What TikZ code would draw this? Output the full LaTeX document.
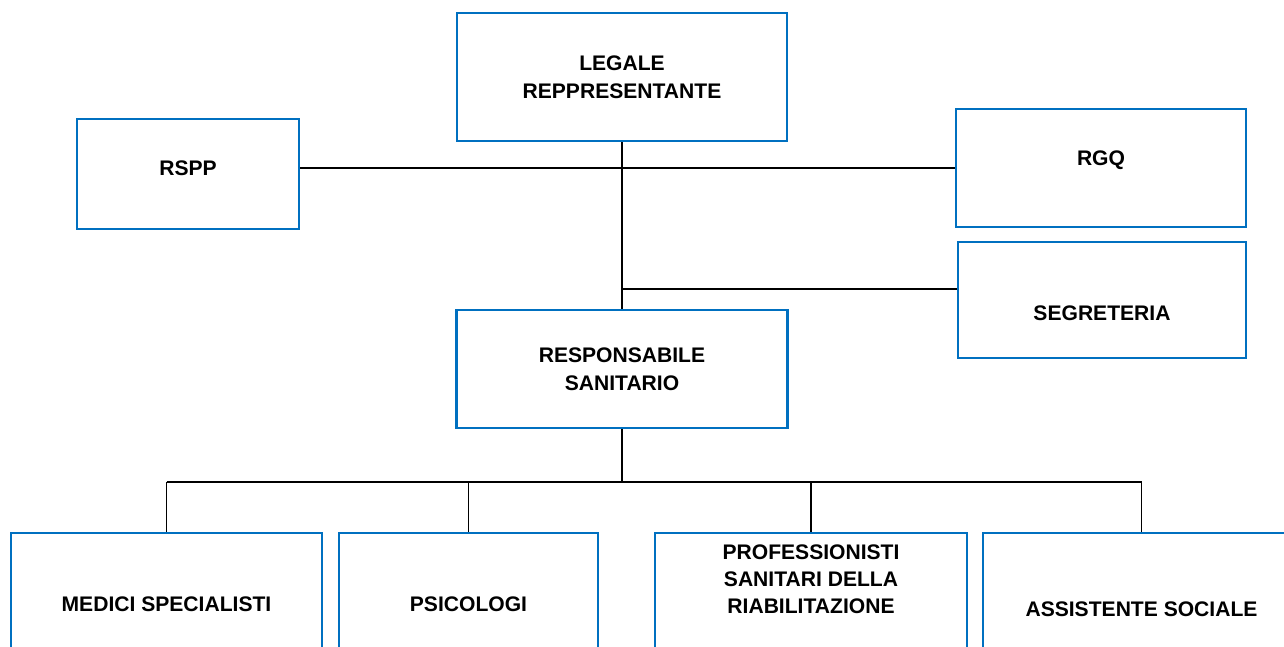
\documentclass[tikz,border=0pt]{standalone}
\usepackage{fontspec}
\setmainfont{Liberation Sans}
\definecolor{boxblue}{RGB}{0,112,192}
\newcommand{\lift}[2]{\raisebox{#1}[\height][\depth]{#2}}
\begin{document}
\begin{tikzpicture}[x=0.02cm,y=-0.02cm]
        \tikzset{
          unit/.style={draw=boxblue, line width=1.5pt, fill=white, align=center,
            inner sep=0pt, font=\fontsize{12}{16}\selectfont\bfseries},
          wire/.style={line width=0.8pt, black}
        }
        \useasboundingbox (0,0) rectangle (1284,646);
        \clip (0,0) rectangle (1284,646);

        % top level
        \node(legale)[unit, minimum width=6.6cm, minimum height=2.56cm] at (622,77) {LEGALE\\REPPRESENTANTE};
        \node(rspp)[unit, minimum width=4.44cm, minimum height=2.2cm] at (188,174) {\lift{0.12cm}{RSPP}};
        \node(rgq)[unit, minimum width=5.8cm, minimum height=2.36cm] at (1101,168) {\lift{0.16cm}{RGQ}};
        \node(segr)[unit, minimum width=5.76cm, minimum height=2.32cm] at (1102,300) {\lift{-0.26cm}{SEGRETERIA}};
        \node(resp)[unit, minimum width=6.62cm, minimum height=2.36cm] at (622,369) {RESPONSABILE\\SANITARIO};

        % bottom row, cut by the page edge
        \node(medici)[unit, minimum width=6.22cm, minimum height=2.84cm] at (166.5,604) {MEDICI SPECIALISTI};
        \node(psicologi)[unit, minimum width=5.18cm, minimum height=2.84cm] at (468.5,604) {PSICOLOGI};
        \node(prof)[unit, minimum width=6.24cm, minimum height=2.84cm] at (811,604) {\lift{0.46cm}{\begin{tabular}{@{}c@{}}PROFESSIONISTI\\[-0.7pt]SANITARI DELLA\\[-0.7pt]RIABILITAZIONE\end{tabular}}};
        \node(assist)[unit, minimum width=6.34cm, minimum height=2.84cm] at (1141.5,604) {\lift{-0.1cm}{ASSISTENTE SOCIALE}};

        \coordinate(segj) at (622,289);
        \coordinate(bus) at (622,482);

        \draw[wire] (legale.south) -- (resp.north);
        \draw[wire] (rgq.west -| rspp.east) -- (rgq.west);
        \draw[wire] (segj) -- (segj -| segr.west);
        \draw[wire] (resp.south) -- (bus);
        \draw[wire] (bus -| medici.north) -- (bus -| assist.north);
        \foreach \n in {medici,psicologi,prof,assist}{
          \draw[wire] (bus -| \n.north) -- (\n.north);
        }
      \end{tikzpicture}
\end{document}
